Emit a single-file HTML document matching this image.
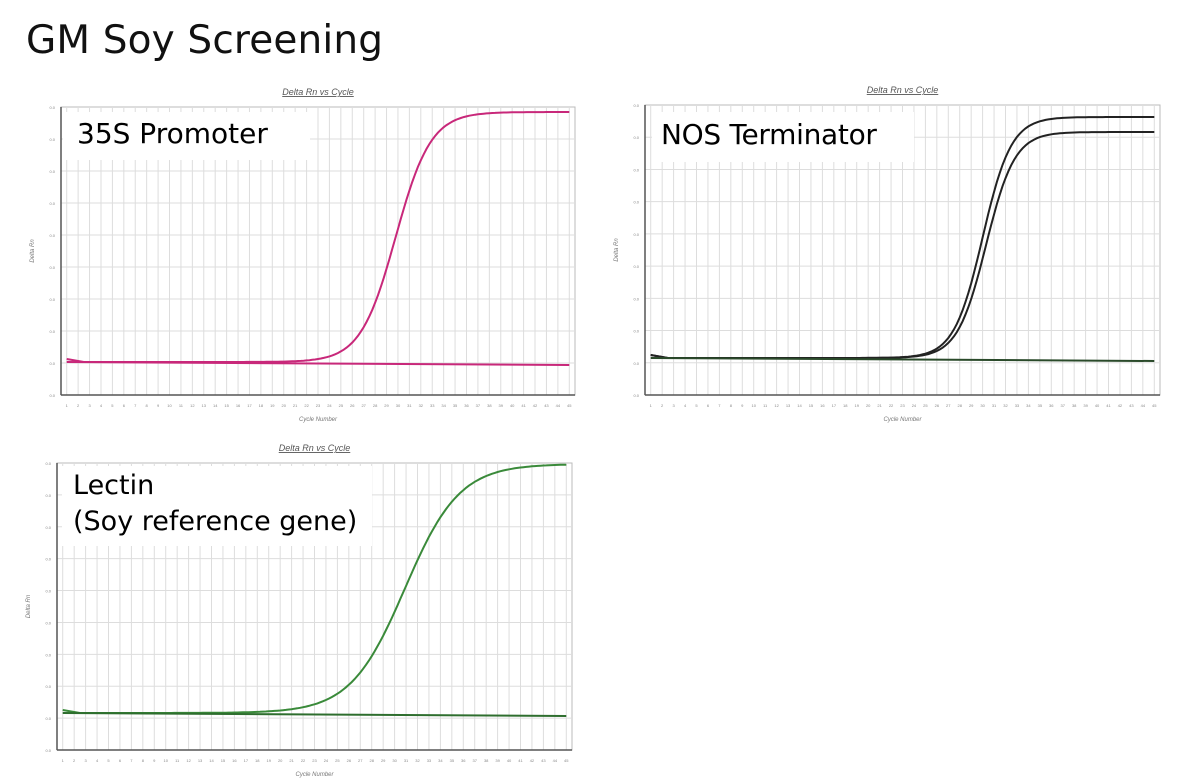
<!DOCTYPE html>
<html><head><meta charset="utf-8">
<style>
body{margin:0;background:#fff;width:1182px;height:780px;overflow:hidden;font-family:"Liberation Sans",sans-serif;}
svg{position:absolute;left:0;top:0}
.lbl{position:absolute;background:#fff;color:#000;font-family:"DejaVu Sans","Liberation Sans",sans-serif;font-size:28px;line-height:37px;}
</style></head><body>
<svg id="s" width="1182" height="780" xmlns="http://www.w3.org/2000/svg">
<text x="26" y="53" font-family="DejaVu Sans, Liberation Sans, sans-serif" font-size="39" fill="#111" textLength="357">GM Soy Screening</text>
</svg>
<div class="lbl" style="left:63px;top:112px;width:247px;height:48px;padding:3px 0 0 14px;box-sizing:border-box">35S Promoter</div>
<div class="lbl" style="left:652px;top:112px;width:262px;height:50px;padding:4px 0 0 9px;box-sizing:border-box;letter-spacing:-0.3px">NOS Terminator</div>
<div class="lbl" style="left:62px;top:466px;width:310px;height:80px;padding:2px 0 0 11px;box-sizing:border-box;font-size:27px;line-height:36px">Lectin<br>(Soy reference gene)</div>
<script>
var s=document.getElementById('s'),NS='http://www.w3.org/2000/svg';
function el(t,a,txt){var e=document.createElementNS(NS,t);for(var k in a)e.setAttribute(k,a[k]);if(txt)e.textContent=txt;s.appendChild(e);return e;}
function chart(c){
 var w=c.x1-c.x0,h=c.y1-c.y0,dx=w/45;
 el('rect',{x:c.x0,y:c.y0,width:w,height:h,fill:'#fff',stroke:'#bbb','stroke-width':1});
 for(var i=0;i<45;i++){var x=c.x0+i*dx+dx/2;el('line',{x1:x,y1:c.y0,x2:x,y2:c.y1,stroke:'#ddd','stroke-width':1});}
 for(var j=1;j<9;j++){var y=c.y0+j*h/9;el('line',{x1:c.x0,y1:y,x2:c.x1,y2:y,stroke:'#ddd','stroke-width':1});}
 el('line',{x1:c.x0,y1:c.y0,x2:c.x0,y2:c.y1,stroke:'#555','stroke-width':1.5});
 el('line',{x1:c.x0,y1:c.y1,x2:c.x1,y2:c.y1,stroke:'#555','stroke-width':1.5});
 for(var j=0;j<=9;j++)el('text',{x:c.x0-6,y:c.y0+j*h/9+2,'font-size':4,fill:'#888','text-anchor':'end'},'0.0');
 for(var i=1;i<=45;i++)el('text',{x:c.x0+(i-0.5)*dx,y:c.y1+12,'font-size':4,fill:'#888','text-anchor':'middle'},i);
 el('text',{x:(c.x0+c.x1)/2,y:c.y0-12,'font-size':9,'font-style':'italic',fill:'#555','text-anchor':'middle','text-decoration':'underline'},'Delta Rn vs Cycle');
 el('text',{x:(c.x0+c.x1)/2,y:c.y1+26,'font-size':6,'font-style':'italic',fill:'#777','text-anchor':'middle'},'Cycle Number');
 el('text',{x:0,y:0,'font-size':6,'font-style':'italic',fill:'#777','text-anchor':'middle',transform:'translate('+(c.x0-27)+','+(c.y0+h/2)+') rotate(-90)'},'Delta Rn');
 c.curves.forEach(function(cv){
  var d='';for(var q=1;q<=45;q+=0.25){var x=c.x0+(q-0.5)*dx;var f=1/(1+Math.exp(-cv.k*(q-cv.m)));var y=c.base-(c.base-cv.top)*f-(q<2.5?(2.5-q)*2:0);d+=(d?'L':'M')+x.toFixed(1)+' '+y.toFixed(1);}
  el('path',{d:d,fill:'none',stroke:c.col,'stroke-width':2});
 });
 el('path',{d:'M'+(c.x0+dx/2)+' '+(c.base)+'L'+(c.x1-dx/2)+' '+(c.base+3),fill:'none',stroke:c.col2||c.col,'stroke-width':2});
}
chart({x0:61,x1:575,y0:107,y1:395,base:362,col:'#c8287a',curves:[{top:112,m:29.8,k:0.65}]});
chart({x0:645,x1:1160,y0:105,y1:395,base:358,col:'#222',col2:'#2a4a2a',curves:[{top:117,m:30.0,k:0.8},{top:132,m:30.3,k:0.8}]});
chart({x0:57,x1:572,y0:463,y1:750,base:713,col:'#3a8a3a',col2:'#2e6e2e',curves:[{top:464,m:30.9,k:0.42}]});
</script>
</body></html>
